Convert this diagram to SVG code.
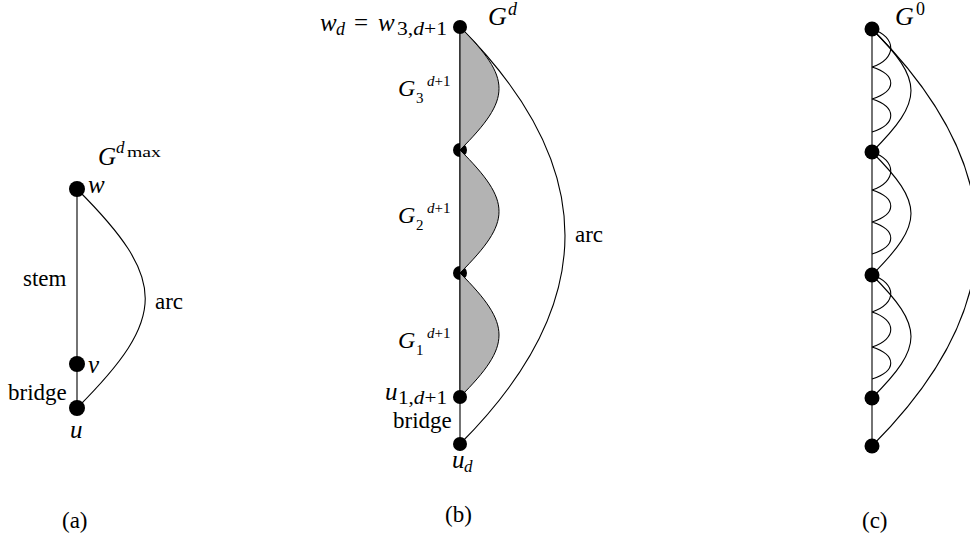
<svg xmlns="http://www.w3.org/2000/svg" width="970" height="539" viewBox="0 0 970 539">
<style>
.ln{fill:none;stroke:#000;stroke-width:1.1}
.lobe{fill:#b3b3b3;stroke:#000;stroke-width:1}
.dot{fill:#000}
text{font-family:"Liberation Serif","Times New Roman",Times,"Nimbus Roman","DejaVu Serif",serif;fill:#000}
.t{font-size:23px}
.m{font-style:italic}
</style>
<rect width="970" height="539" fill="#fff"/>

<!-- (b) middle dots drawn beneath lobes -->
<g id="b-n150"><circle class="dot" cx="460" cy="150" r="7"/></g>
<g id="b-n273"><circle class="dot" cx="460" cy="273" r="7"/></g>

<g id="connectors">
  <!-- (a) -->
  <path class="ln" d="M77,189 V408"/>
  <path class="ln" d="M77,189 C168,280 168,317 77,408"/>
  <!-- (b) -->
  <path class="ln" d="M460,27 V444"/>
  <path class="ln" d="M460,27 C600,167 600,304 460,444"/>
  <!-- (c) -->
  <path class="ln" d="M872,29 V446"/>
  <path class="ln" d="M872,29 C1012,169 1012,306 872,446"/>
  <path class="ln" d="M872,29 C924,81 924,100 872,152"/>
  <path class="ln" d="M872,152 C924,204 924,223 872,275"/>
  <path class="ln" d="M872,275 C924,327 924,346 872,398"/>
  <path class="ln" d="M872,29 C897,37 897,59 872,67 M872,67 C897,75 897,91 872,99 M872,99 C897,107 897,124 872,132"/>
  <path class="ln" d="M872,152 C897,160 897,182 872,190 M872,190 C897,198 897,214 872,222 M872,222 C897,230 897,246 872,254"/>
  <path class="ln" d="M872,275 C897,283 897,304 872,312 M872,312 C897,320 897,339 872,347 M872,347 C897,355 897,371 872,379"/>
</g>

<g id="b-lobes">
  <path class="lobe" d="M460,27 C512,79 512,98 460,150 Z"/>
  <path class="lobe" d="M460,150 C512,202 512,221 460,273 Z"/>
  <path class="lobe" d="M460,273 C512,325 512,345 460,397 Z"/>
</g>

<!-- (a) nodes -->
<g id="a-w"><circle class="dot" cx="77" cy="189" r="8"/><text class="m" x="88" y="193" font-size="25">w</text></g>
<g id="a-v"><circle class="dot" cx="77" cy="364" r="8"/><text class="m" x="88" y="373" font-size="25">v</text></g>
<g id="a-u"><circle class="dot" cx="77" cy="408" r="8"/><text class="m" x="70" y="438" font-size="25">u</text></g>
<g id="a-labels">
  <text class="m" x="98" y="165" font-size="25">G</text>
  <text class="m" x="116" y="153" font-size="17">d</text>
  <text x="127" y="157" font-size="14" textLength="34" lengthAdjust="spacingAndGlyphs">max</text>
  <text class="t" x="23" y="286">stem</text>
  <text class="t" x="155" y="309">arc</text>
  <text class="t" x="8" y="400">bridge</text>
  <text class="t" x="62" y="528">(a)</text>
</g>

<!-- (b) nodes -->
<g id="b-top"><circle class="dot" cx="460" cy="27" r="7"/>
  <text class="m" x="320" y="31" font-size="25">w</text>
  <text class="m" x="336" y="35" font-size="18">d</text>
  <text x="354" y="31" font-size="25">=</text>
  <text class="m" x="378" y="31" font-size="25">w</text>
  <text x="397" y="35" font-size="18" textLength="50" lengthAdjust="spacingAndGlyphs">3,<tspan font-style="italic">d</tspan>+1</text>
</g>
<g id="b-n397"><circle class="dot" cx="460" cy="397" r="7"/>
  <text class="m" x="385" y="400" font-size="25">u</text>
  <text x="398" y="404" font-size="18" textLength="49" lengthAdjust="spacingAndGlyphs">1,<tspan font-style="italic">d</tspan>+1</text>
</g>
<g id="b-ud"><circle class="dot" cx="460" cy="444" r="7"/>
  <text class="m" x="452" y="468" font-size="25">u</text>
  <text class="m" x="464" y="472" font-size="17">d</text>
</g>
<g id="b-labels">
  <text class="m" x="488" y="25" font-size="26">G</text>
  <text class="m" x="508" y="15" font-size="18">d</text>
  <text class="m" x="398" y="96" font-size="24">G</text>
  <text x="416" y="103" font-size="15">3</text>
  <text x="427" y="86" font-size="15"><tspan font-style="italic">d</tspan>+1</text>
  <text class="m" x="398" y="223" font-size="24">G</text>
  <text x="416" y="230" font-size="15">2</text>
  <text x="427" y="213" font-size="15"><tspan font-style="italic">d</tspan>+1</text>
  <text class="m" x="398" y="348" font-size="24">G</text>
  <text x="416" y="355" font-size="15">1</text>
  <text x="427" y="338" font-size="15"><tspan font-style="italic">d</tspan>+1</text>
  <text class="t" x="575" y="242">arc</text>
  <text class="t" x="393" y="428">bridge</text>
  <text class="t" x="445" y="522">(b)</text>
</g>

<!-- (c) nodes -->
<g id="c-n29"><circle class="dot" cx="872" cy="29" r="7.5"/></g>
<g id="c-n152"><circle class="dot" cx="872" cy="152" r="7.5"/></g>
<g id="c-n275"><circle class="dot" cx="872" cy="275" r="7.5"/></g>
<g id="c-n398"><circle class="dot" cx="872" cy="398" r="7.5"/></g>
<g id="c-n446"><circle class="dot" cx="872" cy="446" r="7.5"/></g>
<g id="c-labels">
  <text class="m" x="895" y="25" font-size="26">G</text>
  <text x="916" y="15" font-size="18">0</text>
  <text class="t" x="862" y="528">(c)</text>
</g>
</svg>
